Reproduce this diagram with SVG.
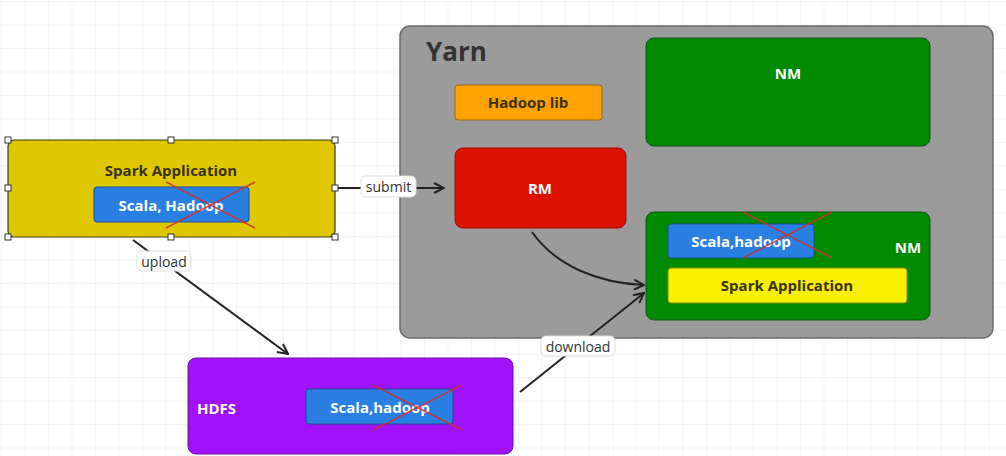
<svg xmlns="http://www.w3.org/2000/svg" width="1006" height="456" viewBox="0 0 1006 456">
<defs>
<pattern id="grid" width="23.5" height="23.5" patternUnits="userSpaceOnUse" x="2" y="2">
<path d="M23.5 0V23.5M0 23.5H23.5" fill="none" stroke="#ebebeb" stroke-width="1"/>
</pattern>
<marker id="arr" viewBox="0 0 12 12" refX="11" refY="6" markerWidth="12" markerHeight="12" markerUnits="userSpaceOnUse" orient="auto">
<path d="M1 1L11 6L1 11" fill="none" stroke="#222" stroke-width="2"/>
</marker>
<style>
.b{font-family:"Open Sans","Noto Sans",sans-serif;font-weight:bold;text-anchor:middle;dominant-baseline:central}
.w{fill:#fff}
.d{fill:#3a3200}
.lbl{font-family:"Open Sans","Noto Sans",sans-serif;font-size:14px;fill:#333;text-anchor:middle;dominant-baseline:central}
.lb{fill:#fff;stroke:#ddd;stroke-width:1}
.x{stroke:#d03030;stroke-width:1.6;opacity:0.85}
.h{fill:#fff;stroke:#333;stroke-width:1}
.c{fill:none;stroke:#222;stroke-width:2}
.blue{fill:#2a7fe3;stroke:#1a4f90;stroke-width:1}
</style>
</defs>
<rect width="1006" height="456" fill="#fff"/>
<rect width="1006" height="456" fill="url(#grid)"/>

<g id="yarn">
<rect x="400" y="26" width="593" height="312" rx="10" fill="#9b9b9b" stroke="#6a6a6a" stroke-width="1.5"/>
<text x="426" y="51" font-family="Open Sans,Noto Sans,sans-serif" font-weight="bold" font-size="26" fill="#333" dominant-baseline="central">Yarn</text>
</g>

<g id="hadooplib">
<rect x="455" y="85" width="147" height="35" rx="3" fill="#ffa200" stroke="#9a6a10" stroke-width="1"/>
<text class="b d" x="528" y="102" font-size="15">Hadoop lib</text>
</g>

<g id="rm">
<rect x="455" y="148" width="171" height="80" rx="8" fill="#dd1100" stroke="#9a1000" stroke-width="1"/>
<text class="b w" x="540" y="188" font-size="15">RM</text>
</g>

<g id="nm1">
<rect x="646" y="38" width="284" height="108" rx="8" fill="#008a00" stroke="#0a5a0a" stroke-width="1"/>
<text class="b w" x="788" y="73" font-size="15">NM</text>
</g>

<g id="nm2">
<rect x="646" y="212" width="284" height="108" rx="8" fill="#008a00" stroke="#0a5a0a" stroke-width="1"/>
<text class="b w" x="908" y="247" font-size="15">NM</text>
<rect class="blue" x="668" y="224" width="146" height="34" rx="3"/>
<text class="b w" x="741" y="241" font-size="15">Scala,hadoop</text>
<line class="x" x1="743" y1="212" x2="832" y2="258"/>
<line class="x" x1="743" y1="258" x2="832" y2="212"/>
<rect x="668" y="268" width="239" height="35" rx="3" fill="#f8f000" stroke="#8a8a00" stroke-width="1"/>
<text class="b d" x="787" y="285" font-size="15">Spark Application</text>
</g>

<g id="spark">
<rect x="8" y="140" width="327" height="97" rx="6" fill="#dfc800" stroke="#3a3a20" stroke-width="1.2"/>
<text class="b d" x="171" y="170" font-size="15">Spark Application</text>
<rect class="blue" x="94" y="187" width="155" height="35" rx="3"/>
<text class="b w" x="171" y="205" font-size="15">Scala, Hadoop</text>
<line class="x" x1="166" y1="182" x2="255" y2="228"/>
<line class="x" x1="166" y1="228" x2="255" y2="182"/>
<rect class="h" x="5" y="137" width="6" height="6"/>
<rect class="h" x="168" y="137" width="6" height="6"/>
<rect class="h" x="332" y="137" width="6" height="6"/>
<rect class="h" x="5" y="185" width="6" height="6"/>
<rect class="h" x="332" y="185" width="6" height="6"/>
<rect class="h" x="5" y="234" width="6" height="6"/>
<rect class="h" x="168" y="234" width="6" height="6"/>
<rect class="h" x="332" y="234" width="6" height="6"/>
</g>

<g id="hdfs">
<rect x="188" y="358" width="325" height="96" rx="8" fill="#a012fa" stroke="#6a10a0" stroke-width="1"/>
<text class="b w" x="197" y="408" font-size="15" style="text-anchor:start">HDFS</text>
<rect class="blue" x="306" y="389" width="147" height="35" rx="3"/>
<text class="b w" x="380" y="407" font-size="15">Scala,hadoop</text>
<line class="x" x1="373" y1="385" x2="462" y2="430"/>
<line class="x" x1="373" y1="430" x2="462" y2="385"/>
</g>

<g id="connectors">
<path class="c" d="M338 188H444" marker-end="url(#arr)"/>
<rect class="lb" x="361" y="176" width="55" height="21" rx="5"/>
<text class="lbl" x="388.5" y="186.5">submit</text>

<path class="c" d="M133 240L288 354" marker-end="url(#arr)"/>
<rect class="lb" x="137" y="251" width="54" height="20" rx="5"/>
<text class="lbl" x="164" y="261">upload</text>

<path class="c" d="M532 232C556 266 598 283 644 285" marker-end="url(#arr)"/>

<path class="c" d="M520 392L644 293" marker-end="url(#arr)"/>
<rect class="lb" x="541" y="336" width="74" height="20" rx="5"/>
<text class="lbl" x="578" y="346">download</text>
</g>
</svg>
